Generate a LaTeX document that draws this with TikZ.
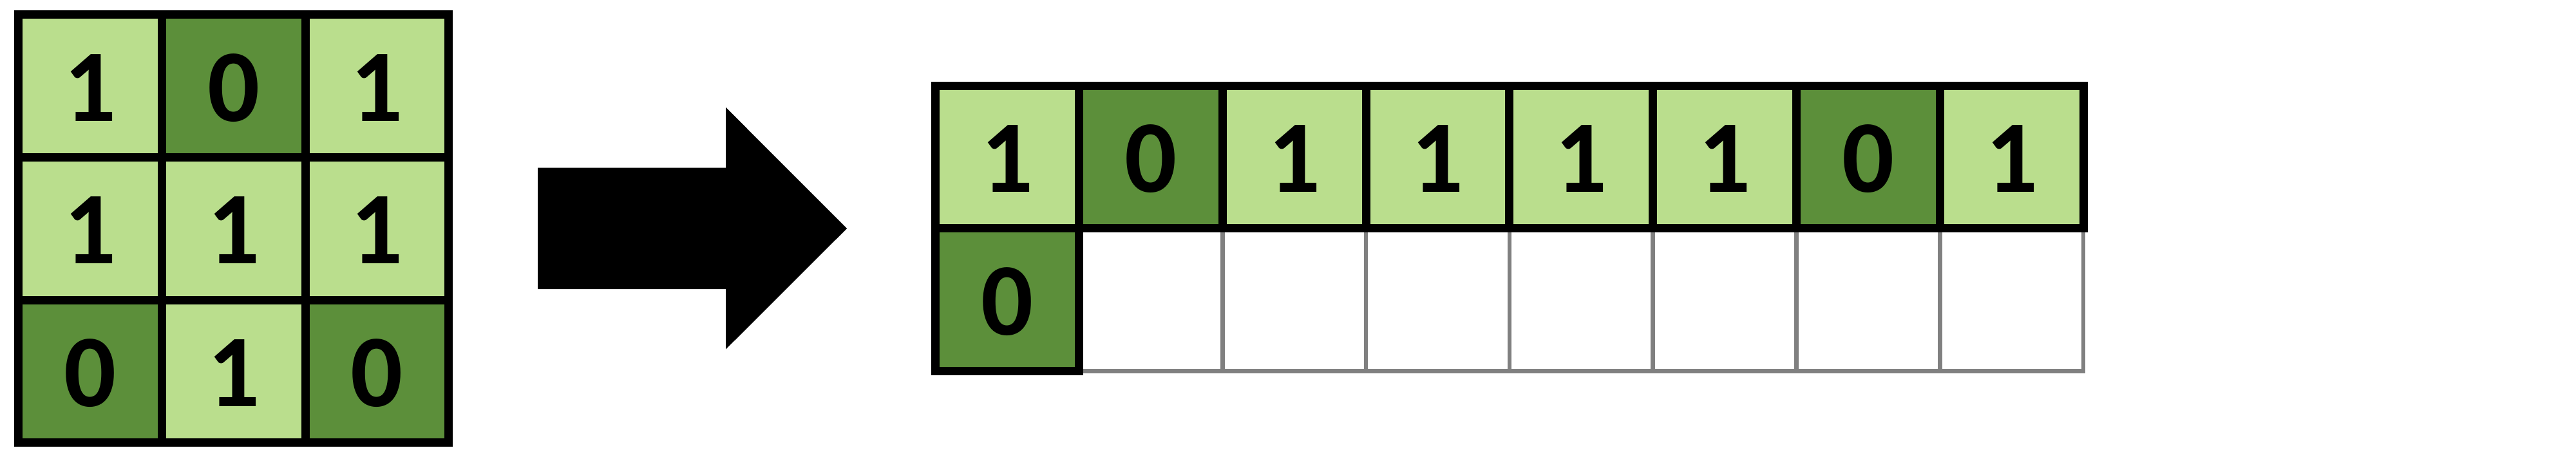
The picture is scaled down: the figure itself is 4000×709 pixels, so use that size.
\documentclass[tikz,border=0pt]{standalone}
\usepackage{fontspec}
\setmainfont{Carlito}
\definecolor{lightg}{RGB}{186,222,141}
\definecolor{darkg}{RGB}{92,143,58}
\definecolor{gridgray}{RGB}{128,128,128}
\begin{document}
\begin{tikzpicture}[x=0.5pt,y=-0.5pt,
  cellbox/.style={draw=black,line width=6.5pt,line join=miter,minimum width=111.4pt,minimum height=110.9pt,inner sep=0pt,outer sep=0pt,font=\fontsize{80pt}{80pt}\selectfont\bfseries,text=black,text height=54.6pt,text depth=0pt},
  one/.style={cellbox,fill=lightg},
  zero/.style={cellbox,fill=darkg},
  emptycell/.style={draw=gridgray,line width=3.25pt,line join=miter,minimum width=111.4pt,minimum height=110.9pt,inner sep=0pt,outer sep=0pt}]
\useasboundingbox (0,0) rectangle (4000,709);
% left 3x3 grid
\node[one]  (a11) at (139.9,133.4) {1};
\node[zero] (a12) at (362.7,133.4) {0};
\node[one]  (a13) at (585.5,133.4) {1};
\node[one]  (a21) at (139.9,355.2) {1};
\node[one]  (a22) at (362.7,355.2) {1};
\node[one]  (a23) at (585.5,355.2) {1};
\node[zero] (a31) at (139.9,577.0) {0};
\node[one]  (a32) at (362.7,577.0) {1};
\node[zero] (a33) at (585.5,577.0) {0};
% arrow
\coordinate (ar1) at (835,260.7);
\coordinate (ar2) at (1127,260.7);
\coordinate (ar3) at (1127,166.7);
\coordinate (tip) at (1315,355);
\coordinate (ar5) at (1127,542.7);
\coordinate (ar6) at (1127,449);
\coordinate (ar7) at (835,449);
\fill[black] (ar1) -- (ar2) -- (ar3) -- (tip) -- (ar5) -- (ar6) -- (ar7) -- cycle;
% right array: empty cells first
\foreach \i in {1,...,7} {
  \node[emptycell] (e\i) at ({1564.1+222.8*\i},465.7) {};
}
\node[one]  (b1) at (1564.1,243.9) {1};
\node[zero] (b2) at (1786.9,243.9) {0};
\node[one]  (b3) at (2009.7,243.9) {1};
\node[one]  (b4) at (2232.5,243.9) {1};
\node[one]  (b5) at (2455.3,243.9) {1};
\node[one]  (b6) at (2678.1,243.9) {1};
\node[zero] (b7) at (2900.9,243.9) {0};
\node[one]  (b8) at (3123.7,243.9) {1};
\node[zero] (b9) at (1564.1,465.7) {0};
\end{tikzpicture}
\end{document}
